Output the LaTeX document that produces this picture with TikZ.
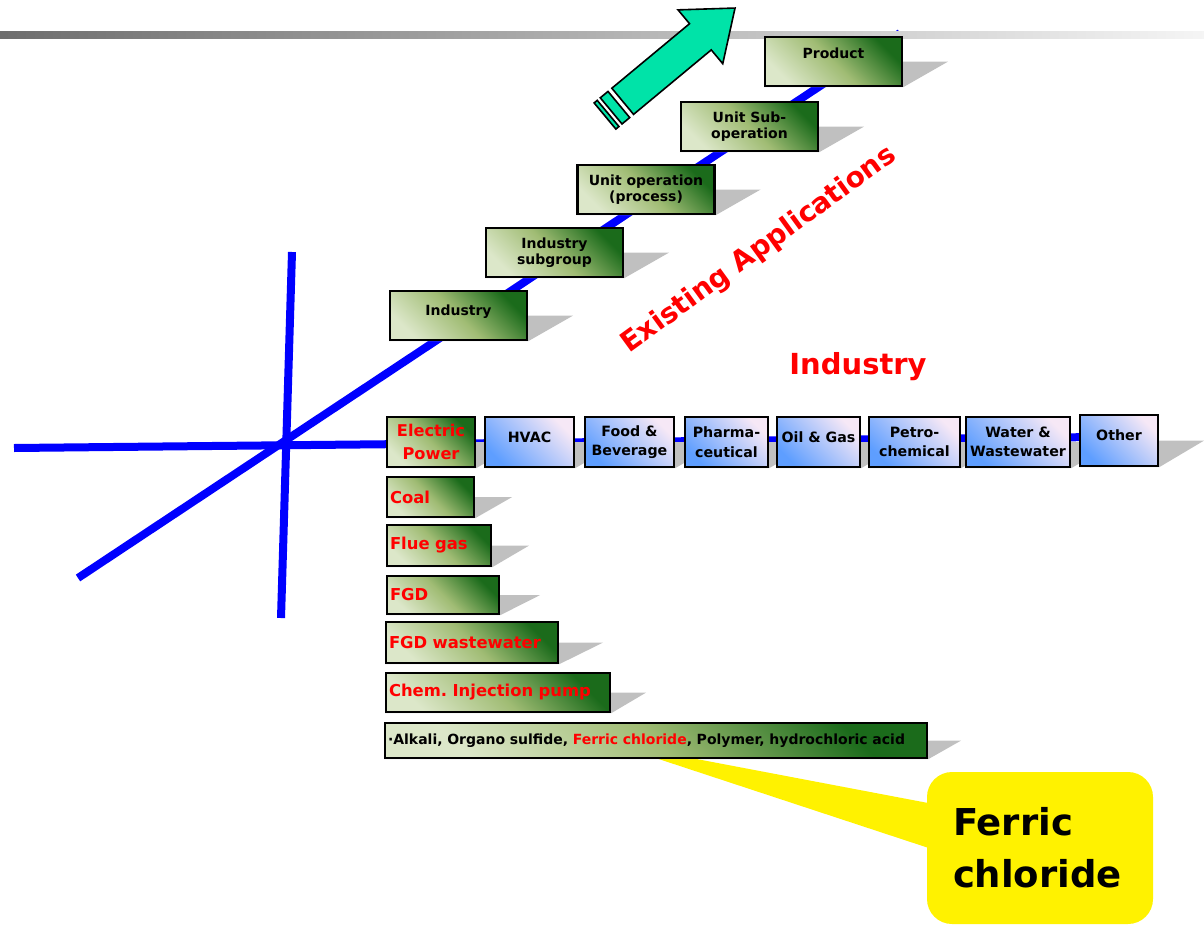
\documentclass[tikz,border=0pt]{standalone}
\usepackage{fontspec}
\setmainfont{DejaVu Sans}
\usetikzlibrary{calc}

\pgfdeclarelayer{back}
\pgfsetlayers{back,main}

\definecolor{leafpale}{HTML}{DCE7C9}
\definecolor{leafmid}{HTML}{A0BC74}
\definecolor{leafdark}{HTML}{1B6B1B}
\definecolor{skyblue}{HTML}{5E9EFF}
\definecolor{skypale}{HTML}{F6E8F6}
\definecolor{shadegray}{HTML}{C0C0C0}
\definecolor{arrowteal}{HTML}{00E3A8}

% skewed drop shadow behind a box
\newcommand{\boxshade}[2]{%
  \fill[shadegray] (#1.south west) -- (#1.south east) -- ([xshift=#2]#1.east) -- ([xshift=#2]#1.west) -- cycle;}

\tikzset{
  stepbox/.style={draw=black, line width=1.2pt, inner sep=1pt, align=center,
    font=\fontsize{7}{8.2}\selectfont\bfseries,
    left color=leafpale, right color=leafdark, middle color=leafmid, shading angle=135,
    minimum width=68.5pt, minimum height=24.5pt},
  indbox/.style={stepbox, left color=skyblue, right color=skypale, shading angle=135,
    minimum height=25pt, font=\fontsize{7.1}{9.8}\selectfont\bfseries},
  fuelbox/.style={stepbox, minimum width=0pt, align=left, inner xsep=1.5pt, text=red,
    font=\fontsize{8.2}{9}\selectfont\bfseries},
  topline/.style={text height=5.3pt, text depth=5pt},
  axisline/.style={blue, line width=4pt},
  tealarrow/.style={draw=black, line width=0.8pt, fill=arrowteal},
  callout/.style={fill=yellow, rounded corners=12.5pt, text width=87pt, inner xsep=13pt,
    minimum height=76pt, align=left, font=\fontsize{18.5}{26}\selectfont\bfseries}
}

\begin{document}
\frenchspacing
\begin{tikzpicture}[x=0.5pt, y=-0.5pt]
\useasboundingbox (0,0) rectangle (1204,926);

% title bar
\shade[left color=black!57, right color=black!4] (0,31) rectangle (1204,38);

% axes
\coordinate (hleft) at (14,448);
\coordinate (hright) at (1100,437);
\coordinate (vtop) at (292,252);
\coordinate (vbot) at (281,618);
\coordinate (dlow) at (78,578);
\coordinate (dhigh) at (900,33);
\begin{pgfonlayer}{back}
\draw[axisline] (hleft) -- (hright);
\draw[axisline] (vtop) -- (vbot);
\draw[axisline] (dlow) -- (dhigh);
\end{pgfonlayer}

% striped arrow
\begin{scope}[shift={(605,116)}, rotate=39.7]
\filldraw[tealarrow] (23,-17) -- (124,-17) -- (124,-35) -- (169,0) -- (124,35) -- (124,17) -- (23,17) -- cycle;
\filldraw[tealarrow] (8,-17) rectangle (18,17);
\filldraw[tealarrow] (0,-17) rectangle (4,17);
\end{scope}

% existing applications
\node[stepbox, topline] (industry) at (458.5,315.5) {Industry};
\node[stepbox] (subgroup) at (554.5,252.5) {Industry\\subgroup};
\node[stepbox] (unitop) at (646,189.5) {Unit operation\\(process)};
\node[stepbox] (subop) at (749.5,126.5) {Unit Sub-\\operation};
\node[stepbox, text height=5.3pt, text depth=8.5pt] (product) at (833.5,61.5) {Product};

\node[rotate=36, text=red, font=\fontsize{14}{16}\selectfont\bfseries] (existing) at (759,250) {Existing Applications};
\node[text=red, font=\fontsize{14.5}{16}\selectfont\bfseries] (indhead) at (858,367) {Industry};

% industry row
\node[stepbox, text=red, font=\fontsize{8.1}{11.3}\selectfont\bfseries, minimum width=44pt, minimum height=25pt] (elec) at (431,442) {Electric\\Power};
\node[indbox, topline, minimum width=44.5pt] (hvac) at (529.5,442) {HVAC};
\node[indbox, minimum width=44.5pt] (food) at (629.5,442) {Food \&\\Beverage};
\node[indbox, minimum width=41.5pt] (pharma) at (726.5,442) {Pharma-\\ceutical};
\node[indbox, topline, minimum width=41.5pt] (oilgas) at (818.5,442) {Oil \& Gas};
\node[indbox, minimum width=45.5pt] (petro) at (914.5,442) {Petro-\\chemical};
\node[indbox, minimum width=52pt] (water) at (1018,442) {Water \&\\Wastewater};
\node[indbox, topline, minimum width=39pt, minimum height=25.5pt] (other) at (1119,440.5) {Other};

% electric power chain
\node[fuelbox, text width=40.5pt, minimum height=20pt] (coal) at (430.5,497) {Coal};
\node[fuelbox, text width=49pt, minimum height=20.5pt] (flue) at (439,545.5) {Flue gas};
\node[fuelbox, text width=53pt, minimum height=19pt] (fgd) at (443,595) {FGD};
\node[fuelbox, text width=83pt, minimum height=20.5pt] (fgdww) at (472,642.5) {FGD wastewater};
\node[fuelbox, text width=109pt, minimum height=19.5pt] (pump) at (498,692.5) {Chem. Injection pump};
\node[fuelbox, text width=268pt, minimum height=17.5pt, text=black, font=\fontsize{7}{8}\selectfont\bfseries] (chem) at (656,740.5) {·Alkali, Organo sulfide, \textcolor{red}{Ferric chloride}, Polymer, hydrochloric acid};

% callout
\node[callout] (callout) at (1040,848) {Ferric\\chloride};
\coordinate (tip) at (607,742);

\begin{pgfonlayer}{back}
\fill[yellow] (tip) -- ($(callout.north west)+(10,33)$) -- ($(callout.north west)+(10,79)$) -- cycle;
\boxshade{industry}{22.5pt}
\boxshade{subgroup}{22.5pt}
\boxshade{unitop}{22.5pt}
\boxshade{subop}{22.5pt}
\boxshade{product}{22.5pt}
\boxshade{elec}{22.5pt}
\boxshade{hvac}{22.5pt}
\boxshade{food}{22.5pt}
\boxshade{pharma}{22.5pt}
\boxshade{oilgas}{22.5pt}
\boxshade{petro}{22.5pt}
\boxshade{water}{22.5pt}
\boxshade{other}{22.5pt}
\boxshade{coal}{18.5pt}
\boxshade{flue}{18.5pt}
\boxshade{fgd}{20pt}
\boxshade{fgdww}{22pt}
\boxshade{pump}{17.5pt}
\boxshade{chem}{16.5pt}
\end{pgfonlayer}
\end{tikzpicture}
\end{document}
